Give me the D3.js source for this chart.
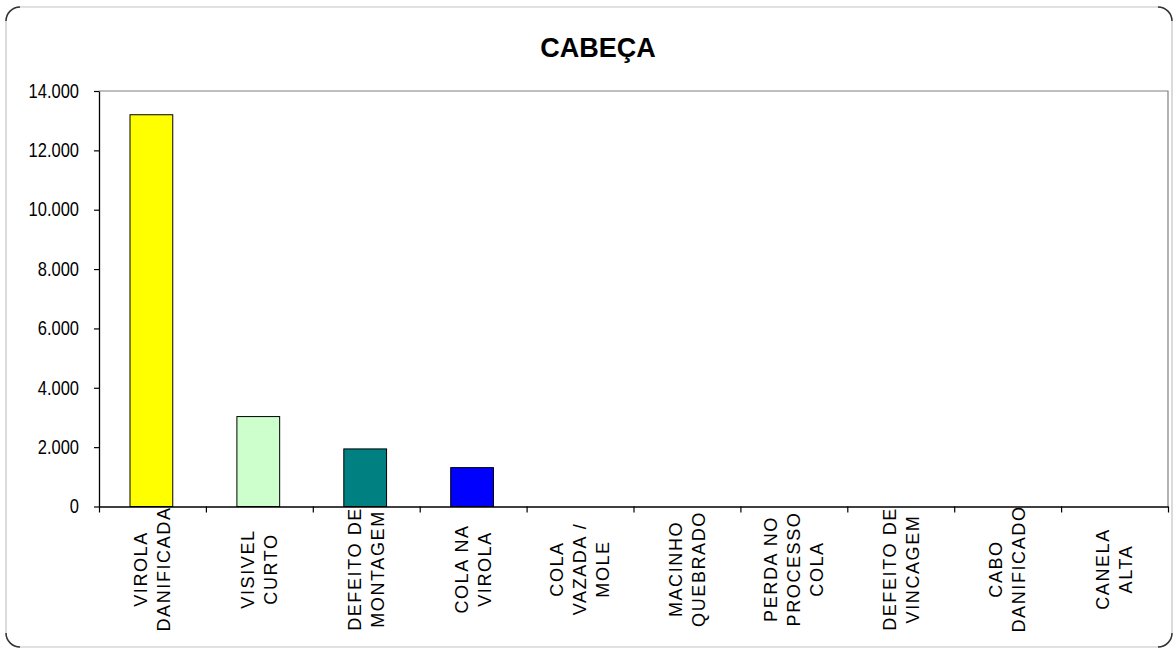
<!DOCTYPE html>
<html>
<head>
<meta charset="utf-8">
<script src="https://cdn.jsdelivr.net/npm/d3@7"></script>
<style>
  html, body { margin: 0; padding: 0; background: #fff; }
  svg { display: block; }
  text { font-family: "Liberation Sans", Arial, sans-serif; }
</style>
</head>
<body>
<svg id="chart" width="1175" height="649"></svg>
<script>
// Defect categories (each entry is a list of label lines)
const categories = [
  ["VIROLA", "DANIFICADA"],
  ["VISIVEL", "CURTO"],
  ["DEFEITO DE", "MONTAGEM"],
  ["COLA NA", "VIROLA"],
  ["COLA", "VAZADA /", "MOLE"],
  ["MACINHO", "QUEBRADO"],
  ["PERDA NO", "PROCESSO", "COLA"],
  ["DEFEITO DE", "VINCAGEM"],
  ["CABO", "DANIFICADO"],
  ["CANELA", "ALTA"]
];
const values = [13200, 3030, 1940, 1310, 0, 0, 0, 0, 0, 0];
const barColors = ["#FFFF00", "#CCFFCC", "#008080", "#0000FF",
                   "#FFFF00", "#CCFFCC", "#008080", "#0000FF", "#FFFF00", "#CCFFCC"];
const yTickValues = [0, 2000, 4000, 6000, 8000, 10000, 12000, 14000];
const yTickLabels = ["0", "2.000", "4.000", "6.000", "8.000", "10.000", "12.000", "14.000"];
const title = "CABEÇA";

const svg = d3.select("#chart");
const W = 1175, H = 649;
const plot = { left: 99, right: 1168, top: 91, bottom: 506.5 };

// Outer chart frame with rounded corners
svg.append("rect")
  .attr("x", 6).attr("y", 7)
  .attr("width", 1166).attr("height", 640)
  .attr("rx", 14).attr("ry", 14)
  .attr("fill", "#fff")
  .attr("stroke", "#c4c4c4")
  .attr("stroke-width", 1.2);

// Darker corner arcs of the frame
const r = 14;
const corners = [
  `M6,${7 + r} A${r},${r} 0 0 1 ${6 + r},7`,
  `M${1172 - r},7 A${r},${r} 0 0 1 1172,${7 + r}`,
  `M1172,${647 - r} A${r},${r} 0 0 1 ${1172 - r},647`,
  `M${6 + r},647 A${r},${r} 0 0 1 6,${647 - r}`
];
svg.selectAll("path.corner").data(corners).enter().append("path")
  .attr("class", "corner")
  .attr("d", d => d)
  .attr("fill", "none")
  .attr("stroke", "#333")
  .attr("stroke-width", 1.5);

// Title
svg.append("text")
  .attr("x", 598).attr("y", 57)
  .attr("text-anchor", "middle")
  .attr("font-size", 27)
  .attr("font-weight", "bold")
  .attr("fill", "#000")
  .text(title);

// Scales
const x = d3.scaleBand()
  .domain(d3.range(categories.length))
  .range([plot.left, plot.right])
  .padding(0);

const y = d3.scaleLinear()
  .domain([0, 14000])
  .range([plot.bottom, plot.top]);

// Plot-area frame (top and right edges)
svg.append("path")
  .attr("d", `M${plot.left},${plot.top} H${plot.right} V${plot.bottom}`)
  .attr("fill", "none")
  .attr("stroke", "#808080")
  .attr("stroke-width", 1.2);

// Bars
svg.append("g")
  .selectAll("rect")
  .data(values)
  .enter().append("rect")
  .attr("x", (d, i) => x(i) + x.bandwidth() * 0.29)
  .attr("width", x.bandwidth() * 0.4)
  .attr("y", d => y(d))
  .attr("height", d => y(0) - y(d))
  .attr("fill", (d, i) => barColors[i])
  .attr("stroke", "#000")
  .attr("stroke-width", d => d > 0 ? 1 : 0);

// Y axis
const yAxis = d3.axisLeft(y)
  .tickValues(yTickValues)
  .tickFormat((d, i) => yTickLabels[i])
  .tickSize(5)
  .tickSizeOuter(0)
  .tickPadding(15);

const gy = svg.append("g")
  .attr("transform", `translate(${plot.left},0)`)
  .call(yAxis);
gy.select(".domain").attr("stroke", "#000").attr("stroke-width", 1.3);
gy.selectAll(".tick line").attr("stroke", "#000").attr("stroke-width", 1.2);
gy.selectAll(".tick text")
  .attr("font-size", 16.5)
  .attr("fill", "#000")
  .attr("font-family", "'Liberation Sans', Arial, sans-serif")
  .attr("transform", "scale(1,1.18)");

// X axis: ticks at the category boundaries
const xEdges = d3.scaleLinear()
  .domain([0, categories.length])
  .range([plot.left, plot.right]);

const xAxis = d3.axisBottom(xEdges)
  .tickValues(d3.range(categories.length + 1))
  .tickFormat("")
  .tickSize(6)
  .tickSizeOuter(0);

const gx = svg.append("g")
  .attr("transform", `translate(0,${plot.bottom})`)
  .call(xAxis);
gx.select(".domain").attr("stroke", "#000").attr("stroke-width", 1.3);
gx.selectAll(".tick line").attr("stroke", "#000").attr("stroke-width", 1.2);

// Rotated multi-line category labels
const lineGap = 23;
const labelMidY = 569;
const labels = svg.append("g")
  .selectAll("g")
  .data(categories)
  .enter().append("g")
  .attr("transform", (d, i) => `translate(${x(i) + x.bandwidth() / 2},${labelMidY}) rotate(-90)`);

labels.each(function(lines) {
  const g = d3.select(this);
  const n = lines.length;
  lines.forEach((line, k) => {
    g.append("text")
      .attr("x", 0)
      .attr("y", (k - (n - 1) / 2) * lineGap)
      .attr("dy", "0.35em")
      .attr("text-anchor", "middle")
      .attr("font-size", 18)
      .attr("letter-spacing", "1.6px")
      .attr("fill", "#000")
      .text(line);
  });
});
</script>
</body>
</html>
